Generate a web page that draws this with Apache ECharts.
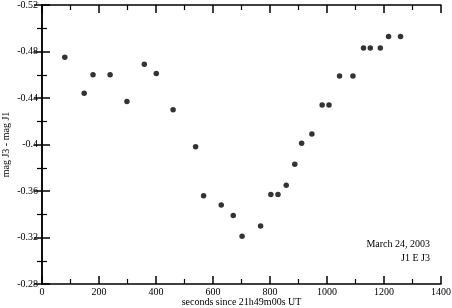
<!DOCTYPE html>
<html>
<head>
<meta charset="utf-8">
<script src="https://cdn.jsdelivr.net/npm/echarts@6/dist/echarts.min.js"></script>
<style>
  html, body { margin: 0; padding: 0; background: #fff; }
  #main { width: 452px; height: 308px; }
</style>
</head>
<body>
<div id="main"></div>
<script>
// 观测时间（秒）和星等差
var seconds = [80, 148, 179, 239, 298, 359, 401, 460, 539, 567, 629, 671, 702, 767,
               803, 828, 857, 887, 911, 947, 983, 1007, 1044, 1091, 1128, 1152, 1187, 1216, 1258];
var magDiff = [-0.475, -0.444, -0.460, -0.460, -0.437, -0.469, -0.461, -0.430, -0.398, -0.356,
               -0.348, -0.339, -0.321, -0.330, -0.357, -0.357, -0.365, -0.383, -0.401, -0.409,
               -0.434, -0.434, -0.459, -0.459, -0.483, -0.483, -0.483, -0.493, -0.493];
var xTicks = [0, 1400, 200];      // min, max, interval
var yTicks = [-0.52, -0.28, 0.04];

var points = [];
for (var i in seconds) {
    points.push([seconds[i], magDiff[i]]);
}

var font = 'Liberation Serif, serif';
var lineStyle = { color: '#000', width: 1.5 };

var myChart = echarts.init(document.getElementById('main'));

var option = {
    backgroundColor: '#fff',
    animation: false,
    grid: { left: 42, right: 11, top: 5, bottom: 24, containLabel: false, outerBoundsMode: 'none' },
    xAxis: [
        {
            type: 'value',
            min: xTicks[0], max: xTicks[1], interval: xTicks[2],
            name: 'seconds since 21h49m00s UT',
            nameLocation: 'middle',
            nameGap: 13,
            nameMoveOverlap: false,
            nameTextStyle: { fontFamily: font, fontSize: 10, color: '#000' },
            axisLine: { lineStyle: lineStyle },
            axisTick: { inside: true, length: 8, lineStyle: lineStyle },
            minorTick: { show: true, splitNumber: 2, length: 5, lineStyle: { color: '#000', width: 1.2 } },
            axisLabel: {
                fontFamily: font, fontSize: 10, color: '#000', margin: 3,
                formatter: function (v) { return String(v); }
            },
            splitLine: { show: false }
        },
        {
            type: 'value', position: 'top',
            min: xTicks[0], max: xTicks[1], interval: xTicks[2],
            axisLine: { lineStyle: lineStyle },
            axisTick: { inside: true, length: 8, lineStyle: lineStyle },
            minorTick: { show: true, splitNumber: 2, length: 5, lineStyle: { color: '#000', width: 1.2 } },
            axisLabel: { show: false },
            splitLine: { show: false }
        }
    ],
    yAxis: [
        {
            type: 'value', inverse: true,
            min: yTicks[0], max: yTicks[1], interval: yTicks[2],
            name: 'mag J3 - mag J1',
            nameLocation: 'middle',
            nameGap: 31,
            nameMoveOverlap: false,
            nameTextStyle: { fontFamily: font, fontSize: 10, color: '#000' },
            axisLine: { lineStyle: lineStyle },
            axisTick: { inside: true, length: 8, lineStyle: lineStyle },
            minorTick: { show: true, splitNumber: 2, length: 5, lineStyle: { color: '#000', width: 1.2 } },
            axisLabel: {
                fontFamily: font, fontSize: 10, color: '#000', margin: 4,
                formatter: function (v) { return String(parseFloat(v.toFixed(2))); }
            },
            splitLine: { show: false }
        },
        {
            type: 'value', inverse: true, position: 'right',
            min: yTicks[0], max: yTicks[1], interval: yTicks[2],
            axisLine: { lineStyle: lineStyle },
            axisTick: { inside: true, length: 8, lineStyle: lineStyle },
            minorTick: { show: true, splitNumber: 2, length: 5, lineStyle: { color: '#000', width: 1.2 } },
            axisLabel: { show: false },
            splitLine: { show: false }
        }
    ],
    graphic: [
        {
            type: 'text', right: 22, top: 239,
            style: { text: 'March 24, 2003', font: '10px ' + font, fill: '#000', textAlign: 'right' }
        },
        {
            type: 'text', right: 22, top: 253,
            style: { text: 'J1 E J3', font: '10px ' + font, fill: '#000', textAlign: 'right' }
        }
    ],
    series: [
        {
            type: 'scatter',
            symbol: 'circle',
            symbolSize: 5.5,
            itemStyle: { color: '#000' },
            data: points
        }
    ]
};

myChart.setOption(option);
</script>
</body>
</html>
